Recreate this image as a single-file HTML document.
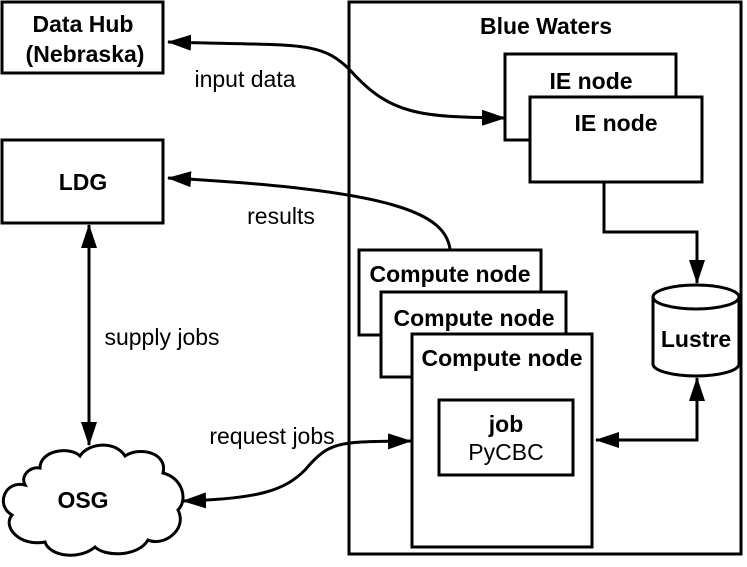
<!DOCTYPE html>
<html><head><style>body{margin:0;background:#fff}</style></head><body>
<svg width="747" height="562" xmlns="http://www.w3.org/2000/svg" font-family="Liberation Sans, sans-serif">
<defs>
<marker id="b" markerWidth="24" markerHeight="16" refX="23" refY="8" orient="auto-start-reverse" markerUnits="userSpaceOnUse" viewBox="0 0 24 16"><path d="M0,0 L24,8 L0,16z" fill="#000"/></marker></defs>
<g fill="none" stroke="#000" stroke-width="3">
<rect x="2" y="2" width="161" height="71" fill="#fff"/>
<rect x="2" y="140" width="161" height="83" fill="#fff"/>
<rect x="349" y="2" width="392" height="552"/>
<rect x="505" y="54" width="171" height="86" fill="#fff"/>
<rect x="530" y="97" width="172" height="85" fill="#fff"/>
<rect x="359" y="250" width="182" height="85" fill="#fff"/>
<rect x="381" y="292" width="185" height="85" fill="#fff"/>
<rect x="412" y="334" width="180" height="213" fill="#fff"/>
<rect x="439" y="400" width="134" height="75" fill="#fff"/>
<path d="M653,297 V364 A43,12 0 0 0 739,364 V297 A43,12 0 0 0 653,297 A43,12 0 0 0 739,297" fill="#fff"/>
<path d="M604,182 V232 H697 V283" marker-end="url(#b)"/>
<path d="M697,378 V440 H596" marker-start="url(#b)" marker-end="url(#b)"/>
<path d="M168,42 C300,46 320,40 350,70 C390,115 420,117 505,118" marker-start="url(#b)" marker-end="url(#b)"/>
<path d="M450,249 C445,215 400,190 168,178" marker-end="url(#b)"/>
<path d="M89,225 V445" marker-start="url(#b)" marker-end="url(#b)"/>
<path d="M183,501 C260,499 285,490 305,470 C330,440 340,442 411,441" marker-start="url(#b)" marker-end="url(#b)"/>
<path d="M40,468 C40,450 70,446 80,456 C88,443 115,440 125,456 C140,446 168,453 163,473 C183,478 188,500 178,510 C188,530 163,547 148,540 C138,557 105,557 95,547 C80,560 50,557 45,542 C20,547 2,527 12,515 C-5,505 5,480 25,485 C20,476 30,466 40,468z" fill="#fff"/>
</g>
<g font-weight="bold" font-size="23" text-anchor="middle">
<text x="83" y="32">Data Hub</text><text x="85" y="62">(Nebraska)</text>
<text x="83" y="190">LDG</text>
<text x="546" y="34">Blue Waters</text>
<text x="591" y="89">IE node</text>
<text x="616" y="131">IE node</text>
<text x="450" y="282">Compute node</text>
<text x="474" y="326">Compute node</text>
<text x="502" y="366">Compute node</text>
<text x="506" y="432">job</text>
<text x="696" y="347">Lustre</text>
<text x="83" y="508">OSG</text>
</g>
<g font-size="23" text-anchor="middle">
<text x="506" y="460">PyCBC</text>
<text x="245" y="87">input data</text>
<text x="281" y="224">results</text>
<text x="162" y="345">supply jobs</text>
<text x="272" y="444">request jobs</text>
</g>
</svg>
</body></html>
